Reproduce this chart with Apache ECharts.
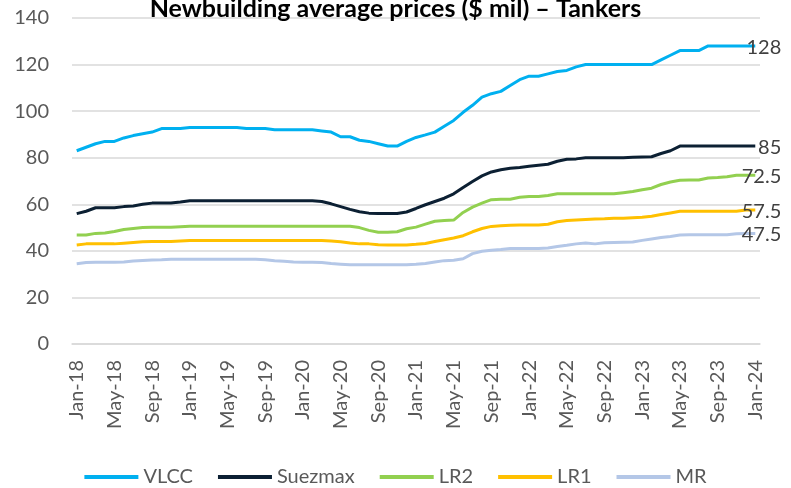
<!DOCTYPE html>
<html>
<head>
<meta charset="utf-8">
<script src="https://cdn.jsdelivr.net/npm/echarts@6/dist/echarts.min.js"></script>
<style>
html,body{margin:0;padding:0;background:#fff;}
#chart{width:791px;height:488px;}
</style>
</head>
<body>
<div id="chart"></div>
<script>
const categories = [
'Jan-18','Feb-18','Mar-18','Apr-18','May-18','Jun-18','Jul-18','Aug-18','Sep-18','Oct-18','Nov-18','Dec-18',
'Jan-19','Feb-19','Mar-19','Apr-19','May-19','Jun-19','Jul-19','Aug-19','Sep-19','Oct-19','Nov-19','Dec-19',
'Jan-20','Feb-20','Mar-20','Apr-20','May-20','Jun-20','Jul-20','Aug-20','Sep-20','Oct-20','Nov-20','Dec-20',
'Jan-21','Feb-21','Mar-21','Apr-21','May-21','Jun-21','Jul-21','Aug-21','Sep-21','Oct-21','Nov-21','Dec-21',
'Jan-22','Feb-22','Mar-22','Apr-22','May-22','Jun-22','Jul-22','Aug-22','Sep-22','Oct-22','Nov-22','Dec-22',
'Jan-23','Feb-23','Mar-23','Apr-23','May-23','Jun-23','Jul-23','Aug-23','Sep-23','Oct-23','Nov-23','Dec-23',
'Jan-24'];

const vlcc = [
83,84.5,86,87,87,88.5,89.5,90.3,91,92.5,92.5,92.5,
93,93,93,93,93,93,92.5,92.5,92.5,92,92,92,
92,92,91.5,91,89,89,87.5,87,86,85,85,87,
88.7,89.8,91,93.5,96,99.5,102.5,106,107.5,108.5,111,113.5,
115,115,116,117,117.5,119,120,120,120,120,120,120,
120,120,122,124,126,126,126,128,128,128,128,128,
128];

const suezmax = [
56,57,58.5,58.5,58.5,59,59.3,60,60.5,60.6,60.6,61,
61.5,61.5,61.5,61.5,61.5,61.5,61.5,61.5,61.5,61.5,61.5,61.5,
61.5,61.5,61.2,60.2,59,57.8,56.8,56.2,56,56,56,56.7,
58.2,59.8,61.2,62.6,64.5,67.2,69.8,72.2,73.9,74.8,75.5,75.8,
76.3,76.8,77.2,78.5,79.3,79.5,80,80,80,80,80,80.2,
80.3,80.4,81.8,83,85,85,85,85,85,85,85,85,
85];

const lr2 = [
46.8,46.8,47.5,47.7,48.3,49.2,49.6,50,50.1,50.1,50.1,50.4,
50.6,50.6,50.6,50.6,50.6,50.6,50.6,50.6,50.6,50.6,50.6,50.6,
50.6,50.6,50.6,50.6,50.6,50.6,50,48.8,48,48,48.2,49.5,
50.2,51.5,52.7,53,53.2,56.5,58.8,60.5,62,62.2,62.2,63,
63.3,63.3,63.8,64.5,64.5,64.5,64.5,64.5,64.5,64.5,65,65.5,
66.2,66.9,68.5,69.6,70.3,70.4,70.4,71.3,71.5,71.8,72.5,72.5,
72.5];

const lr1 = [
42.5,43,43,43,43,43.3,43.6,43.9,44,44,44,44.2,
44.4,44.4,44.4,44.4,44.4,44.4,44.4,44.4,44.4,44.4,44.4,44.4,
44.4,44.4,44.4,44.2,43.9,43.4,43,43,42.6,42.5,42.5,42.5,
42.8,43.2,44,44.8,45.5,46.5,48.2,49.6,50.5,50.8,51,51.1,
51.1,51.1,51.4,52.5,53,53.3,53.5,53.7,53.8,54,54,54.2,
54.4,54.9,55.6,56.3,57,57,57,57,57,57,57,57.5,
57.5];

const mr = [
34.5,35,35.1,35.1,35.1,35.2,35.6,35.9,36.1,36.2,36.4,36.4,
36.4,36.4,36.4,36.4,36.4,36.4,36.4,36.4,36.2,35.8,35.5,35.2,
35.1,35.1,35,34.6,34.3,34,34,34,34,34,34,34,
34.2,34.6,35.2,35.8,36,36.6,38.8,39.8,40.3,40.6,41,41,
41,41,41.2,41.9,42.4,43,43.4,43,43.5,43.6,43.7,43.8,
44.5,45.1,45.7,46.2,46.8,46.9,46.9,46.9,46.9,46.9,47.3,47.5,
47.5];

const seriesNames = ['VLCC','Suezmax','LR2','LR1','MR'];
const seriesData = [vlcc, suezmax, lr2, lr1, mr];
const seriesColors = ['#00B0F0','#0C2033','#92D050','#FFC000','#B4C7E7'];
const yTicks = {min:0, max:140, interval:20};
const titleText = 'Newbuilding average prices ($ mil) \u2013 Tankers';

const FONT = 'Lato, "Open Sans", sans-serif';

const chart = echarts.init(document.getElementById('chart'), null, {renderer:'canvas'});
chart.setOption({
  animation:false,
  textStyle:{fontFamily:FONT},
  title:{
    text:titleText, left:'center', top:-9,
    textStyle:{fontFamily:FONT, fontSize:25, fontWeight:'bold', color:'#000'}
  },
  grid:{left:72, right:31, top:18, bottom:144, containLabel:false},
  legend:{
    data:seriesNames, left:'center', top:462,
    icon:'rect', itemWidth:54, itemHeight:4, itemGap:25,
    textStyle:{fontFamily:FONT, fontSize:20, color:'#595959'}
  },
  xAxis:{
    type:'category', data:categories, boundaryGap:true,
    axisLine:{show:true, lineStyle:{color:'#D9D9D9', width:1.5}},
    axisTick:{show:false},
    axisLabel:{interval:3, rotate:90, margin:16, fontFamily:FONT, fontSize:20, color:'#595959'},
    splitLine:{show:false}
  },
  yAxis:{
    type:'value', min:yTicks.min, max:yTicks.max, interval:yTicks.interval,
    axisLine:{show:false}, axisTick:{show:false},
    axisLabel:{margin:23, fontFamily:FONT, fontSize:20, color:'#595959'},
    splitLine:{lineStyle:{color:'#D9D9D9', width:1.5}}
  },
  series: seriesNames.map((n,i)=>({
    name:n, type:'line', data:seriesData[i], symbol:'none', smooth:false,
    color:seriesColors[i],
    lineStyle:{width:3, color:seriesColors[i]},
    z: 10 - i,
    endLabel:{show:true, formatter:(p)=>String(p.value), align:'right', distance:0, offset:[26,1.5],
      fontFamily:FONT, fontSize:20, color:'#404040'}
  }))
});
</script>
</body>
</html>
